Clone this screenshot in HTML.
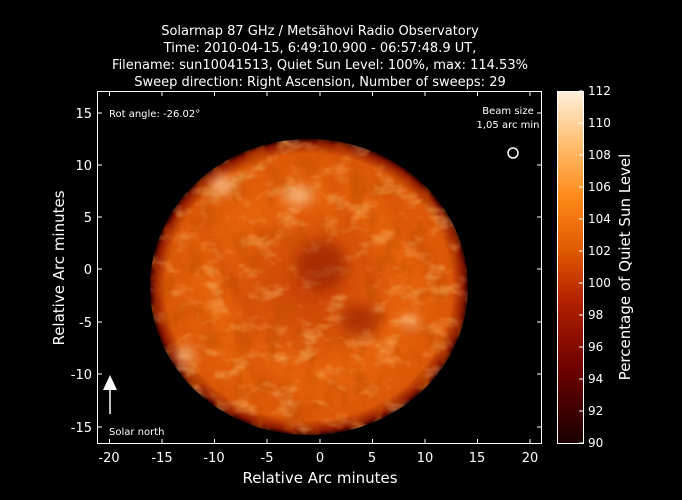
<!DOCTYPE html>
<html><head><meta charset="utf-8"><style>
html,body{margin:0;padding:0;background:#000;}
svg{display:block;font-family:"DejaVu Sans","Liberation Sans",sans-serif;}
</style></head><body>
<svg width="682" height="500" viewBox="0 0 682 500" xmlns="http://www.w3.org/2000/svg">
<defs>
<linearGradient id="cb" x1="0" y1="1" x2="0" y2="0">
<stop offset="0" stop-color="#1a0000"/>
<stop offset="0.2" stop-color="#6a0000"/>
<stop offset="0.4" stop-color="#b02000"/>
<stop offset="0.55" stop-color="#e05a00"/>
<stop offset="0.7" stop-color="#ff8a1a"/>
<stop offset="0.85" stop-color="#ffbe70"/>
<stop offset="1" stop-color="#fff0dc"/>
</linearGradient>
<radialGradient id="disk" cx="0.5" cy="0.5" r="0.5">
<stop offset="0" stop-color="#c84005"/>
<stop offset="0.6" stop-color="#e6620c"/>
<stop offset="0.9" stop-color="#dc5808"/>
<stop offset="0.97" stop-color="#901a00"/>
<stop offset="1" stop-color="#300000"/>
</radialGradient>
<filter id="tex" x="0" y="0" width="100%" height="100%">
<feTurbulence type="fractalNoise" baseFrequency="0.04 0.06" numOctaves="3" seed="7"/>
<feColorMatrix type="matrix" values="0 0 0 0 1  0 0 0 0 0.6  0 0 0 0 0.2  1.4 0 0 0 -0.72"/>
</filter>
<filter id="tex2" x="0" y="0" width="100%" height="100%">
<feTurbulence type="fractalNoise" baseFrequency="0.06 0.04" numOctaves="3" seed="3"/>
<feColorMatrix type="matrix" values="0 0 0 0 0.55  0 0 0 0 0.08  0 0 0 0 0  1.6 0 0 0 -0.7"/>
</filter>
<clipPath id="dc"><ellipse cx="309" cy="287" rx="159" ry="148"/></clipPath>
<filter id="blur"><feGaussianBlur stdDeviation="6"/></filter>
</defs>
<rect width="682" height="500" fill="#000"/>
<ellipse cx="309" cy="287" rx="159" ry="148" fill="url(#disk)"/>
<g clip-path="url(#dc)">
<rect x="150" y="139" width="318" height="296" filter="url(#tex2)"/>
<rect x="150" y="139" width="318" height="296" filter="url(#tex)"/>
<g filter="url(#blur)" fill="#ffd0a0" opacity="0.75">
<ellipse cx="298" cy="195" rx="16" ry="9"/>
<ellipse cx="222" cy="185" rx="12" ry="10"/>
<ellipse cx="185" cy="355" rx="9" ry="9"/>
<ellipse cx="410" cy="322" rx="9" ry="6"/>
</g>
<g filter="url(#blur)" fill="#8a1500" opacity="0.55">
<ellipse cx="322" cy="265" rx="25" ry="25"/>
<ellipse cx="360" cy="320" rx="20" ry="15"/>
</g>
<g stroke="#901800" stroke-width="3" opacity="0.35" filter="url(#blur)">
<line x1="200" y1="220" x2="260" y2="330"/><line x1="330" y1="180" x2="380" y2="290"/>
<line x1="240" y1="340" x2="300" y2="420"/><line x1="390" y1="200" x2="440" y2="280"/>
</g>
</g>
<g fill="none" stroke="#fff" stroke-width="1">
<rect x="97.5" y="91.5" width="444" height="352"/>
</g>
<g stroke="#fff" stroke-width="1">
<line x1="109.5" y1="443" x2="109.5" y2="439"/><line x1="109.5" y1="92" x2="109.5" y2="96"/>
<line x1="162" y1="443" x2="162" y2="439"/><line x1="162" y1="92" x2="162" y2="96"/>
<line x1="214.5" y1="443" x2="214.5" y2="439"/><line x1="214.5" y1="92" x2="214.5" y2="96"/>
<line x1="267" y1="443" x2="267" y2="439"/><line x1="267" y1="92" x2="267" y2="96"/>
<line x1="320" y1="443" x2="320" y2="439"/><line x1="320" y1="92" x2="320" y2="96"/>
<line x1="372.5" y1="443" x2="372.5" y2="439"/><line x1="372.5" y1="92" x2="372.5" y2="96"/>
<line x1="425" y1="443" x2="425" y2="439"/><line x1="425" y1="92" x2="425" y2="96"/>
<line x1="477.5" y1="443" x2="477.5" y2="439"/><line x1="477.5" y1="92" x2="477.5" y2="96"/>
<line x1="530" y1="443" x2="530" y2="439"/><line x1="530" y1="92" x2="530" y2="96"/>
<line x1="98" y1="113" x2="102" y2="113"/><line x1="541" y1="113" x2="537" y2="113"/>
<line x1="98" y1="165" x2="102" y2="165"/><line x1="541" y1="165" x2="537" y2="165"/>
<line x1="98" y1="217" x2="102" y2="217"/><line x1="541" y1="217" x2="537" y2="217"/>
<line x1="98" y1="269" x2="102" y2="269"/><line x1="541" y1="269" x2="537" y2="269"/>
<line x1="98" y1="322" x2="102" y2="322"/><line x1="541" y1="322" x2="537" y2="322"/>
<line x1="98" y1="374" x2="102" y2="374"/><line x1="541" y1="374" x2="537" y2="374"/>
<line x1="98" y1="427" x2="102" y2="427"/><line x1="541" y1="427" x2="537" y2="427"/>
</g>
<g fill="#fff" font-size="13" text-anchor="middle">
<text x="109" y="462">-20</text><text x="162" y="462">-15</text><text x="214" y="462">-10</text>
<text x="267" y="462">-5</text><text x="320" y="462">0</text><text x="372" y="462">5</text>
<text x="425" y="462">10</text><text x="477" y="462">15</text><text x="530" y="462">20</text>
</g>
<g fill="#fff" font-size="13" text-anchor="end">
<text x="92" y="118">15</text><text x="92" y="170">10</text><text x="92" y="222">5</text>
<text x="92" y="274">0</text><text x="92" y="327">-5</text><text x="92" y="379">-10</text><text x="92" y="432">-15</text>
</g>
<text x="320" y="483" fill="#fff" font-size="15" text-anchor="middle">Relative Arc minutes</text>
<text x="0" y="0" fill="#fff" font-size="15" text-anchor="middle" transform="translate(64,268) rotate(-90)">Relative Arc minutes</text>
<g fill="#fff" font-size="13" text-anchor="middle">
<text x="320" y="35">Solarmap 87 GHz / Metsähovi Radio Observatory</text>
<text x="320" y="52">Time: 2010-04-15,  6:49:10.900 - 06:57:48.9 UT,</text>
<text x="320" y="69">Filename: sun10041513, Quiet Sun Level: 100%, max: 114.53%</text>
<text x="320" y="86">Sweep direction: Right Ascension, Number of sweeps: 29</text>
</g>
<text x="109" y="117" fill="#fff" font-size="10">Rot angle: -26.02°</text>
<text x="508" y="114" fill="#fff" font-size="10" text-anchor="middle">Beam size</text>
<text x="508" y="128" fill="#fff" font-size="10" text-anchor="middle">1,05 arc min</text>
<circle cx="513" cy="153" r="5" fill="none" stroke="#fff" stroke-width="1.5"/>
<line x1="110" y1="414" x2="110" y2="386" stroke="#fff" stroke-width="1.5"/>
<polygon points="110,375 103,390 117,390" fill="#fff"/>
<text x="109" y="435" fill="#fff" font-size="10">Solar north</text>
<rect x="557" y="91" width="26" height="352" fill="url(#cb)"/>
<rect x="557.5" y="91.5" width="26" height="352" fill="none" stroke="#fff"/>
<g stroke="#fff">
<line x1="583" y1="91" x2="579" y2="91"/><line x1="583" y1="123" x2="579" y2="123"/>
<line x1="583" y1="155" x2="579" y2="155"/><line x1="583" y1="187" x2="579" y2="187"/>
<line x1="583" y1="219" x2="579" y2="219"/><line x1="583" y1="251" x2="579" y2="251"/>
<line x1="583" y1="283" x2="579" y2="283"/><line x1="583" y1="315" x2="579" y2="315"/>
<line x1="583" y1="347" x2="579" y2="347"/><line x1="583" y1="379" x2="579" y2="379"/>
<line x1="583" y1="411" x2="579" y2="411"/><line x1="583" y1="443" x2="579" y2="443"/>
</g>
<g fill="#fff" font-size="12">
<text x="588" y="95">112</text><text x="588" y="127">110</text><text x="588" y="159">108</text>
<text x="588" y="191">106</text><text x="588" y="223">104</text><text x="588" y="255">102</text>
<text x="588" y="287">100</text><text x="588" y="319">98</text><text x="588" y="351">96</text>
<text x="588" y="383">94</text><text x="588" y="415">92</text><text x="588" y="447">90</text>
</g>
<text x="0" y="0" fill="#fff" font-size="15" text-anchor="middle" transform="translate(630,267) rotate(-90)">Percentage of Quiet Sun Level</text>
</svg>
</body></html>
